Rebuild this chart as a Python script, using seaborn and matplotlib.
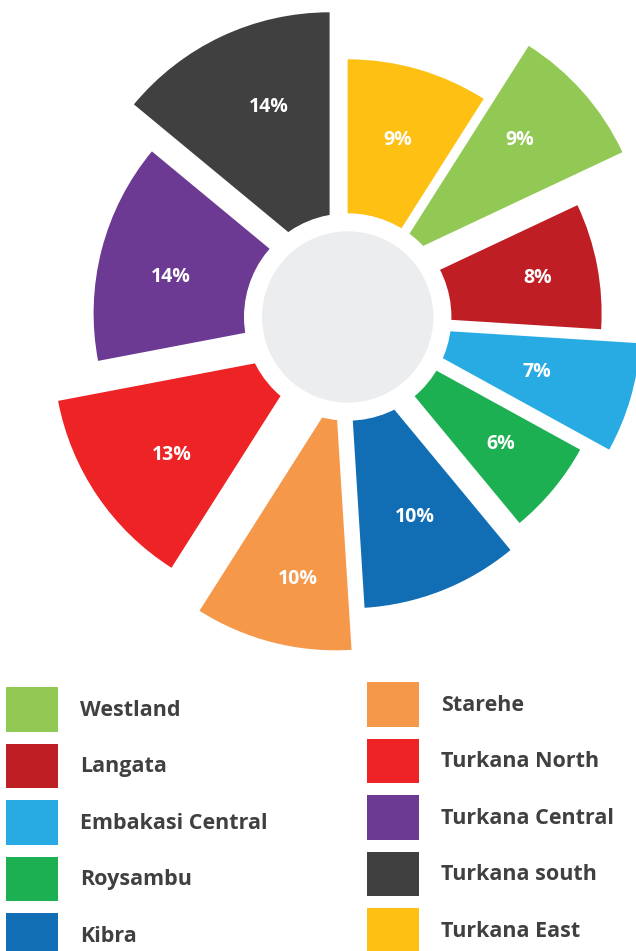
import matplotlib
matplotlib.use("Agg")
import matplotlib.pyplot as plt
from matplotlib.patches import Circle, Patch
import seaborn as sns

# data, in pie order (clockwise, starting with Westland)
areas = ["Westland", "Langata", "Embakasi Central", "Roysambu", "Kibra",
         "Starehe", "Turkana North", "Turkana Central", "Turkana south", "Turkana East"]
shares = [9, 8, 7, 6, 10, 10, 13, 14, 14, 9]
colors = ["#92C954", "#BE1E24", "#28ABE3", "#1DB053", "#116EB5",
          "#F6984A", "#EE2325", "#6D3A93", "#404040", "#FDC013"]

# how far each slice is pulled out of the pie (pixels, x right / y up)
shift_x = [45, 0, 39, 10, 1, -12, -40, 0, -18, 0]
shift_y = [53, 0, -14, -14, -41, -83, -40, 0, 47, 0]
# small hand nudges of the % labels
nudge_x = [-6, 15, -20, 6, 1, 6, 11, -5, 15, 1]
nudge_y = [3, 2, 5, -3, 3, -10, -2, -8, -2, 3]

sns.set_theme(style="white")
plt.rcParams["font.family"] = ["Open Sans", "DejaVu Sans"]

W, H = 636, 951
fig = plt.figure(figsize=(W / 100, H / 100), dpi=100)
ax = fig.add_axes([0, 0, 1, 1])

cx, cy = 347.6, H - 313.3
R = 254
wedges, _, pct_texts = ax.pie(
    shares, colors=colors, radius=R, center=(cx, cy),
    startangle=90 - 360 * shares[-1] / 100, counterclock=False,
    autopct="%.0f%%", pctdistance=0.70,
    wedgeprops=dict(linewidth=0),
    textprops=dict(color="white", fontweight="bold", fontsize=14),
)
for i, (w, t) in enumerate(zip(wedges, pct_texts)):
    w.set_center((cx + shift_x[i], cy + shift_y[i]))
    x, y = t.get_position()
    t.set_position((x + shift_x[i] + nudge_x[i], y + shift_y[i] + nudge_y[i]))
    t.set_zorder(5)

# hole in the middle
ax.add_patch(Circle((347.7, H - 317), 103, color="white", zorder=3))
ax.add_patch(Circle((347.7, H - 317), 85, color="#ECEDEF", zorder=4))

ax.set_xlim(0, W)
ax.set_ylim(0, H)
ax.set_aspect("equal")
ax.axis("off")

handles = [Patch(facecolor=c, linewidth=0) for c in colors]
leg_kw = dict(loc="upper left", frameon=False, borderpad=0, borderaxespad=0,
              handlelength=2.41, handleheight=2.82, labelspacing=0.55,
              handletextpad=1.02, prop=dict(family="Open Sans", weight="bold", size=15.5),
              labelcolor="#404041")
fig.legend(handles[:5], areas[:5], bbox_to_anchor=(6 / W, 1 - 687 / H), **leg_kw)
fig.legend(handles[5:], areas[5:], bbox_to_anchor=(367 / W, 1 - 682 / H), **leg_kw)

fig.savefig("out.png", dpi=100)
